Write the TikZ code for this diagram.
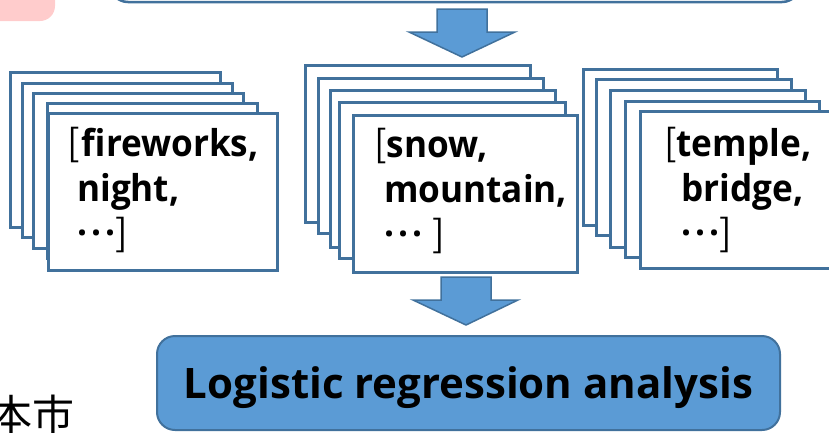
\documentclass[tikz,border=0pt]{standalone}
\usepackage{fontspec}
\newfontfamily\cardfont{Open Sans}
\newfontfamily\tagfont{Open Sans}[FakeStretch=0.95]
\newfontfamily\cjk{Noto Sans CJK JP}
\definecolor{cardline}{HTML}{41719C}
\definecolor{boxfill}{HTML}{5B9BD5}
\definecolor{notepink}{HTML}{FFCCCC}
\tikzset{
    card/.style={draw=cardline, line width=3pt, fill=white},
    cardtext/.style={anchor=north west, inner sep=0pt, align=left,
        font=\tagfont\bfseries\fontsize{37}{45}\selectfont},
    blockarrow/.style={draw=cardline, line width=1.5pt, fill=boxfill, line join=miter},
    resultbox/.style={draw=cardline, line width=2pt, fill=boxfill, rounded corners=18pt,
        minimum width=623pt, minimum height=94pt, inner sep=0pt,
        text height=36pt, text depth=6pt,
        font=\cardfont\bfseries\fontsize{42}{50}\selectfont},
}
\newcommand{\brk}[1]{{\cjk\mdseries #1}}
\newcommand{\tagdots}{\raisebox{11pt}{.\kern4pt.\kern4pt.}}
\begin{document}
\begin{tikzpicture}[x=1pt, y=-1pt]
    \useasboundingbox (0,0) rectangle (829,432);
    \clip (0,0) rectangle (829,432);

    % Cut-off shapes at the top
    \fill[notepink, rounded corners=15pt] (-30,-30) rectangle (55,21);
    \draw[cardline, line width=2.5pt, rounded corners=18pt, fill=white] (110,-50) rectangle (800,2);

    % Arrow down to the tag cards
    \draw[blockarrow] (437,9) -- (487,9) -- (487,32) -- (515,32) -- (462,57)
        -- (409,32) -- (437,32) -- cycle;

    % Fireworks cards
    \begin{scope}
        \draw[card] (10,72) rectangle (220,227);
        \draw[card] (22,83) rectangle (232,237);
        \draw[card] (33,93) rectangle (243,248);
        \draw[card] (47,103) rectangle (257,258);
        \draw[card] (48,113) rectangle (277,270);
        \node[cardtext] (fwtags) at (67,127)
            {\brk{[}\kern2pt fireworks,\\ \hspace*{10pt}night,\\ \hspace*{10pt}\tagdots\brk{]}};
    \end{scope}

    % Snow cards
    \begin{scope}
        \draw[card] (305,65) rectangle (530,222);
        \draw[card] (318,78) rectangle (543,233);
        \draw[card] (330,90) rectangle (555,247);
        \draw[card] (339,102) rectangle (565,258);
        \draw[card] (353,115) rectangle (577,272);
        \node[cardtext] (snowtags) at (374,128)
            {\brk{[}snow,\\ \hspace*{10pt}mountain,\\ \hspace*{10pt}\tagdots\kern10pt\brk{]}};
    \end{scope}

    % Temple cards
    \begin{scope}
        \draw[card] (583,69) rectangle (777,225);
        \draw[card] (596,79) rectangle (791,235);
        \draw[card] (610,90) rectangle (805,247);
        \draw[card] (625,101) rectangle (819,257);
        \draw[card] (640,111) rectangle (836,268);
        \node[cardtext] (templetags) at (664,127)
            {\brk{[}temple,\\ \hspace*{17pt}bridge,\\ \hspace*{17pt}\tagdots\brk{]}};
    \end{scope}

    % Arrow down to the analysis
    \draw[blockarrow] (441,277) -- (491,277) -- (491,300) -- (518,300) -- (466,325)
        -- (413,300) -- (441,300) -- cycle;

    \node[resultbox] (logit) at (468.5,383) {Logistic regression analysis};

    \node[anchor=base west, inner sep=0pt, font=\cjk\fontsize{42}{42}\selectfont] (city)
        at (-10,430) {本市};
\end{tikzpicture}
\end{document}
